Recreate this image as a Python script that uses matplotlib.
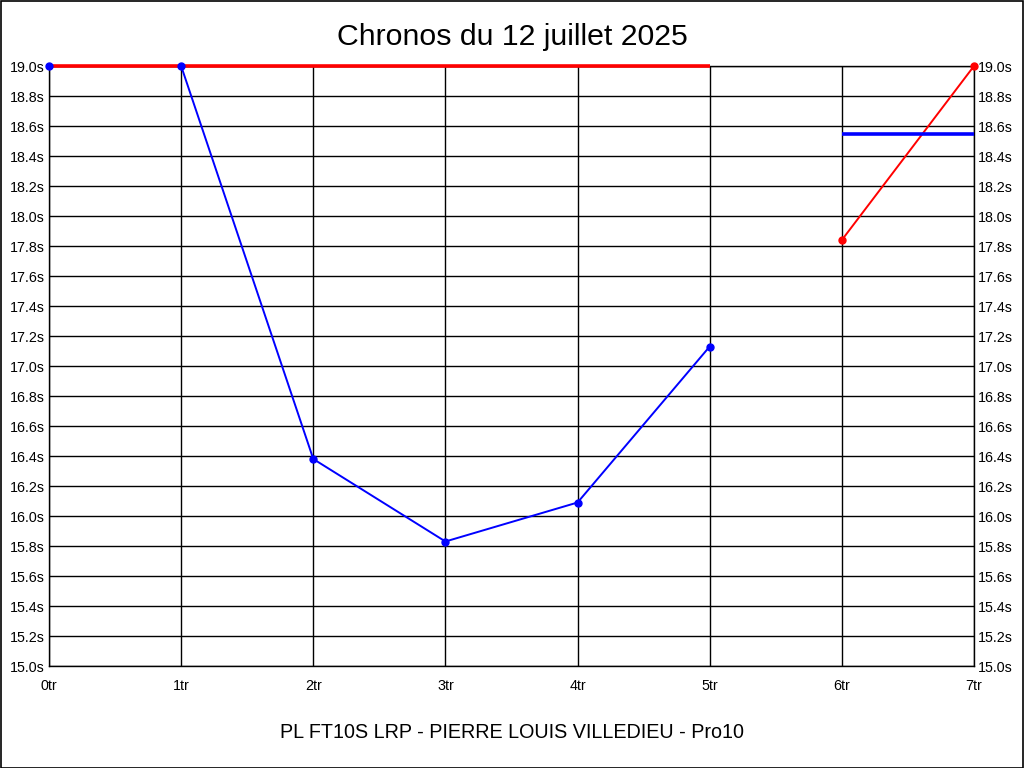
import matplotlib
matplotlib.use("Agg")
from matplotlib import pyplot as plt
from matplotlib.patches import Rectangle

plt.rcParams['font.family'] = ['Liberation Sans', 'DejaVu Sans']

laps = [0, 1, 2, 3, 4, 5, 6, 7]
lap_labels = ["0tr", "1tr", "2tr", "3tr", "4tr", "5tr", "6tr", "7tr"]

blue_x = [0, 1, 2, 3, 4, 5]
blue_y = [19.0, 19.0, 16.38, 15.83, 16.09, 17.13]

red_x = [6, 7]
red_y = [17.84, 19.0]

red_ref_x = [0, 5]
red_ref_y = [19.0, 19.0]

blue_ref_x = [6, 7]
blue_ref_y = [18.55, 18.55]

y_ticks = [15.0 + 0.2 * i for i in range(21)]

fig = plt.figure(figsize=(10.24, 7.68), dpi=100)
ax = fig.add_axes([49 / 1024, 102 / 768, 925 / 1024, 600 / 768])

# lines first, then reference bars, markers on top
ax.plot(blue_x, blue_y, color="#0000ff", lw=1.4, zorder=3, clip_on=False)
ax.plot(red_x, red_y, color="#ff0000", lw=1.4, zorder=3, clip_on=False)
ax.plot(red_ref_x, red_ref_y, color="#ff0000", lw=2.6, zorder=4, clip_on=False,
        solid_capstyle="butt")
ax.plot(blue_ref_x, blue_ref_y, color="#0000ff", lw=2.6, zorder=4, clip_on=False,
        solid_capstyle="butt")
ax.plot(blue_x, blue_y, ls="none", marker="o", ms=5, color="#0000ff", zorder=5, clip_on=False)
ax.plot(red_x, red_y, ls="none", marker="o", ms=5, color="#ff0000", zorder=5, clip_on=False)

ax.set_xlim(0, 7)
ax.set_ylim(15.0, 19.0)
ax.set_xticks(laps)
ax.set_xticklabels(lap_labels)
ax.set_yticks(y_ticks)
ax.set_yticklabels(["%.1fs" % v for v in y_ticks])
ax.grid(True, color="black", lw=1)
ax.set_axisbelow(True)
for s in ax.spines.values():
    s.set_color("black")
    s.set_linewidth(1)
ax.tick_params(axis="both", length=0, labelsize=10.3)
ax.tick_params(axis="y", labelleft=True, labelright=True, pad=3)
ax.tick_params(axis="x", pad=9)

fig.text(0.5, 1 - 37 / 768, "Chronos du 12 juillet 2025", ha="center", va="center", fontsize=21.8)
fig.text(0.5, 1 - 733 / 768, "PL FT10S LRP - PIERRE LOUIS VILLEDIEU - Pro10", ha="center", va="center", fontsize=14.2)

fig.patches.append(Rectangle((0.5 / 1024, 0.5 / 768), 1 - 1.5 / 1024, 1 - 1.5 / 768,
                             transform=fig.transFigure, fill=False, edgecolor="black", lw=1.2))

fig.savefig("out.png", dpi=100)
